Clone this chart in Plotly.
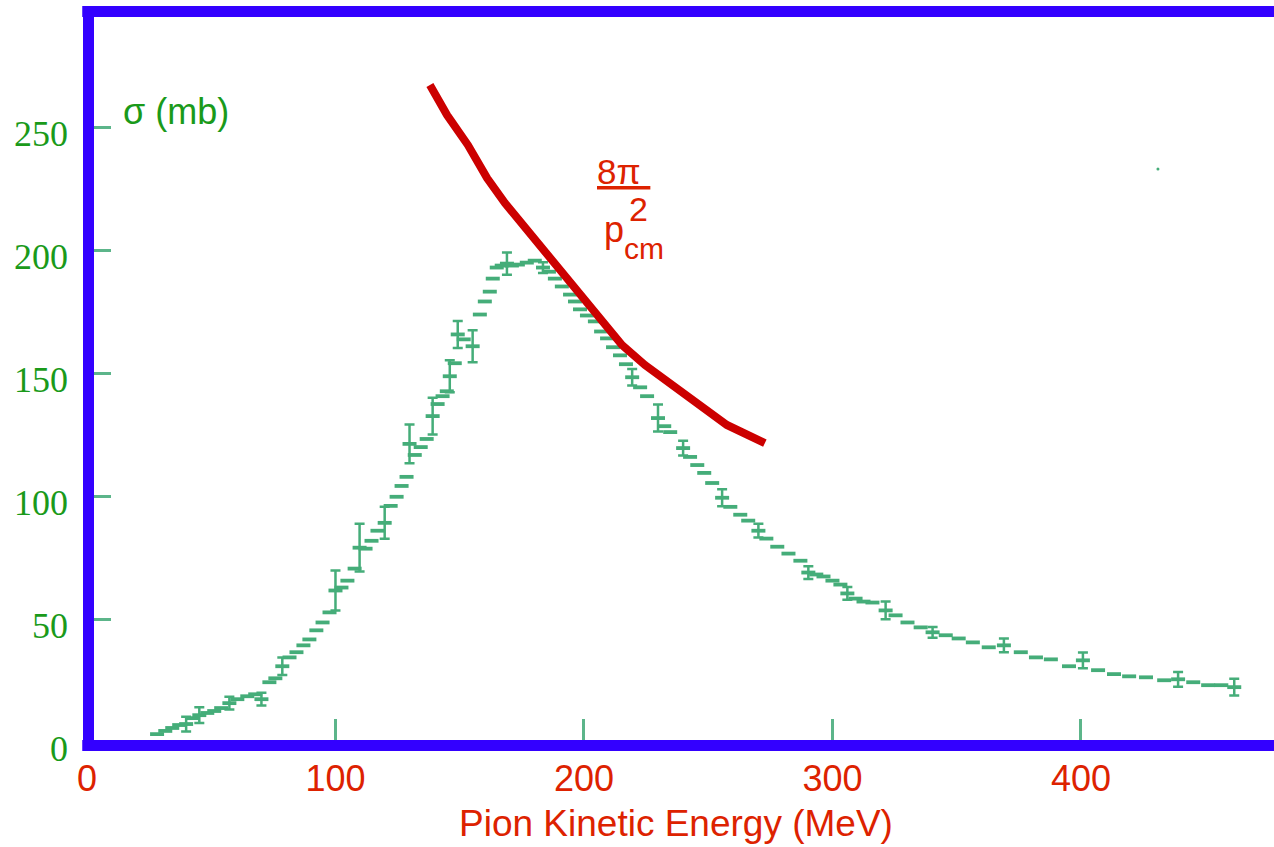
import plotly.graph_objects as go

# ---- data ----
energy = [28.2, 31.5, 34.3, 37.1, 39.9, 42.3, 45.2, 48.4, 51.2, 54.0,
          57.3, 60.5, 64.5, 67.7, 70.2, 73.4, 75.8, 78.6, 81.5, 84.3,
          87.1, 89.5, 92.3, 94.8, 97.6, 100.0, 102.4, 104.8, 107.7, 109.7,
          112.1, 114.5, 116.9, 119.8, 122.2, 124.6, 126.6, 128.6, 129.8, 131.9,
          134.3, 136.7, 139.1, 141.1, 143.1, 144.8, 146.0, 148.0, 149.2, 151.6,
          155.2, 158.1, 160.1, 162.1, 163.3, 164.9, 166.9, 169.0, 171.0, 173.4,
          177.0, 180.2, 183.5, 185.9, 188.3, 191.1, 194.4, 196.4, 198.4, 201.2,
          204.4, 206.9, 209.3, 211.7, 214.5, 216.9, 219.4, 222.6, 225.4, 229.8,
          232.3, 234.7, 239.9, 242.7, 245.6, 248.4, 251.6, 255.6, 258.9, 262.9,
          266.1, 270.2, 273.4, 277.8, 282.3, 287.1, 290.3, 293.5, 296.4, 300.0,
          303.2, 306.0, 309.3, 312.5, 316.1, 321.4, 325.4, 330.2, 335.5, 340.3,
          345.6, 350.8, 356.5, 362.9, 369.0, 375.8, 381.9, 387.9, 395.2, 400.8,
          406.9, 413.3, 419.4, 426.2, 433.5, 439.1, 445.2, 451.2, 456.5, 461.7]
sigma = [3.2, 4.5, 5.7, 6.9, 7.3, 9.7, 10.9, 11.8, 12.6, 13.8,
         15.8, 17.4, 18.6, 19.4, 17.4, 24.3, 25.9, 30.8, 34.4, 36.5,
         39.3, 41.7, 45.4, 48.6, 52.7, 61.6, 62.8, 65.6, 70.5, 79.0,
         78.6, 81.8, 85.9, 89.1, 96.0, 99.7, 104.1, 107.8, 121.2, 116.7,
         119.9, 123.2, 132.5, 137.4, 140.6, 142.6, 148.7, 154.0, 165.7, 163.7,
         160.9, 173.8, 179.1, 183.1, 188.4, 192.9, 193.7, 194.5, 193.7, 194.1,
         194.9, 195.7, 192.9, 191.2, 188.4, 185.2, 181.9, 179.1, 175.9, 173.4,
         171.0, 166.9, 164.1, 160.5, 157.2, 153.6, 148.3, 144.2, 140.6, 131.7,
         128.4, 126.0, 119.5, 115.9, 112.6, 109.4, 105.3, 99.3, 95.6, 92.4,
         90.0, 85.9, 82.7, 79.4, 76.6, 73.7, 68.9, 68.1, 67.3, 65.6,
         64.0, 60.4, 58.3, 57.1, 56.7, 53.5, 51.5, 48.6, 46.6, 44.6,
         43.4, 42.1, 40.5, 38.5, 39.3, 36.5, 34.4, 33.6, 30.8, 33.2,
         29.2, 27.6, 26.7, 26.3, 25.1, 25.5, 24.3, 23.1, 23.1, 22.3]
sigma_err = [0, 0, 0, 0, 3.0, 0, 3.2, 0, 0, 0,
             2.6, 0, 0, 0, 2.6, 0, 0, 3.6, 0, 0,
             0, 0, 0, 0, 0, 8.1, 0, 0, 0, 9.7,
             0, 0, 0, 6.5, 0, 0, 0, 0, 7.9, 0,
             0, 0, 7.5, 0, 0, 0, 6.5, 0, 5.5, 0,
             6.5, 0, 0, 0, 0, 0, 0, 4.5, 0, 0,
             0, 0, 2.2, 0, 0, 0, 0, 0, 0, 0,
             0, 0, 0, 0, 0, 0, 3.4, 0, 0, 5.5,
             0, 0, 3.0, 0, 0, 0, 0, 3.5, 0, 0,
             0, 2.8, 0, 0, 0, 0, 2.6, 0, 0, 0,
             0, 2.6, 0, 0, 0, 3.6, 0, 0, 0, 2.2,
             0, 0, 0, 0, 2.8, 0, 0, 0, 0, 3.2,
             0, 0, 0, 0, 0, 3.0, 0, 0, 0, 3.4]
stray_x = [431]
stray_y = [233]

curve_x = [138.0, 144.9, 153.3, 161.0, 168.2, 177.1, 186.3, 196.4,
           205.2, 215.3, 224.5, 235.4, 246.5, 257.5, 272.8]
curve_y = [267.1, 254.9, 242.7, 229.3, 219.1, 208.1, 196.7, 183.7,
           173.6, 161.4, 153.3, 145.1, 137.0, 128.9, 121.5]

x_ticks = [0, 100, 200, 300, 400]
y_ticks = [0, 50, 100, 150, 200, 250]

# ---- styles ----
GREEN_DATA = "#45ad79"
GREEN_TEXT = "#1a9a1a"
RED_TEXT = "#dd2200"
RED_LINE = "#cc0000"
BLUE = "#3300ff"

fig = go.Figure()

fig.add_trace(go.Scatter(
    x=energy, y=sigma, mode="markers",
    marker=dict(symbol="line-ew", size=10, color=GREEN_DATA,
                line=dict(color=GREEN_DATA, width=3.8)),
    showlegend=False, hoverinfo="x+y"))

ex = [e for e, s in zip(energy, sigma_err) if s > 0]
ey = [v for v, s in zip(sigma, sigma_err) if s > 0]
ee = [s for s in sigma_err if s > 0]
fig.add_trace(go.Scatter(
    x=ex, y=ey, mode="markers",
    marker=dict(size=2, color=GREEN_DATA, opacity=0),
    error_y=dict(type="data", array=ee, visible=True, color=GREEN_DATA,
                 thickness=2.5, width=5),
    showlegend=False, hoverinfo="skip"))

fig.add_trace(go.Scatter(
    x=stray_x, y=stray_y, mode="markers",
    marker=dict(size=3, color=GREEN_DATA), showlegend=False))

fig.add_trace(go.Scatter(
    x=curve_x, y=curve_y, mode="lines",
    line=dict(color=RED_LINE, width=8), showlegend=False))

fig.update_layout(
    width=1274, height=847,
    margin=dict(l=87, r=0, t=11, b=105),
    paper_bgcolor="white", plot_bgcolor="white",
    xaxis=dict(range=[0, 477.7], showgrid=False, zeroline=False, showline=False,
               tickmode="array", tickvals=x_ticks, ticktext=[str(v) for v in x_ticks],
               ticks="inside", ticklen=23, tickwidth=2.5, tickcolor="#5cb58a",
               tickfont=dict(family="Liberation Sans, Arial, sans-serif", size=36, color=RED_TEXT),
               ticklabelstandoff=12),
    yaxis=dict(range=[0, 297.2], showgrid=False, zeroline=False, showline=False,
               tickmode="array", tickvals=y_ticks, ticktext=[str(v) for v in y_ticks],
               ticks="inside", ticklen=24, tickwidth=2.5, tickcolor="#5cb58a",
               tickfont=dict(family="Liberation Serif, Times New Roman, serif", size=36, color=GREEN_TEXT),
               ticklabelstandoff=18, ticklabelshift=6),
)

# thick blue frame (left, top, bottom)
fig.add_shape(type="rect", xref="paper", yref="paper", xsizemode="pixel", ysizemode="pixel",
              xanchor=0, x0=-4, x1=7, yanchor=0, y0=-9, y1=736,
              fillcolor=BLUE, line=dict(width=0), layer="above")
fig.add_shape(type="rect", xref="paper", yref="paper", ysizemode="pixel",
              x0=-0.004, x1=1.01, yanchor=1, y0=5, y1=-6,
              fillcolor=BLUE, line=dict(width=0), layer="above")
fig.add_shape(type="rect", xref="paper", yref="paper", ysizemode="pixel",
              x0=-0.004, x1=1.01, yanchor=0, y0=2, y1=-9,
              fillcolor=BLUE, line=dict(width=0), layer="above")

SANS = "Liberation Sans, Arial, sans-serif"
fig.add_annotation(text="Pion Kinetic Energy (MeV)", xref="paper", yref="paper",
                   x=0.496, y=-0.112, xanchor="center", yanchor="middle", showarrow=False,
                   font=dict(family=SANS, size=37, color=RED_TEXT))
fig.add_annotation(text="σ (mb)", xref="paper", yref="paper",
                   x=0.029, y=0.862, xanchor="left", yanchor="middle", showarrow=False,
                   font=dict(family=SANS, size=36, color=GREEN_TEXT))
fig.add_annotation(text="<u>8π </u>", xref="x", yref="y",
                   x=216, y=232, xanchor="center", yanchor="middle", showarrow=False,
                   font=dict(family=SANS, size=35, color=RED_TEXT))
fig.add_annotation(text="p", xref="x", yref="y",
                   x=212, y=208.2, xanchor="center", yanchor="middle", showarrow=False,
                   font=dict(family=SANS, size=36, color=RED_TEXT))
fig.add_annotation(text="2", xref="x", yref="y",
                   x=221.9, y=216.8, xanchor="center", yanchor="middle", showarrow=False,
                   font=dict(family=SANS, size=34, color=RED_TEXT))
fig.add_annotation(text="cm", xref="x", yref="y",
                   x=224.3, y=200.8, xanchor="center", yanchor="middle", showarrow=False,
                   font=dict(family=SANS, size=30, color=RED_TEXT))

fig.write_html("out.html", config={"displayModeBar": False},
               post_script="document.body.style.margin='0px';")
